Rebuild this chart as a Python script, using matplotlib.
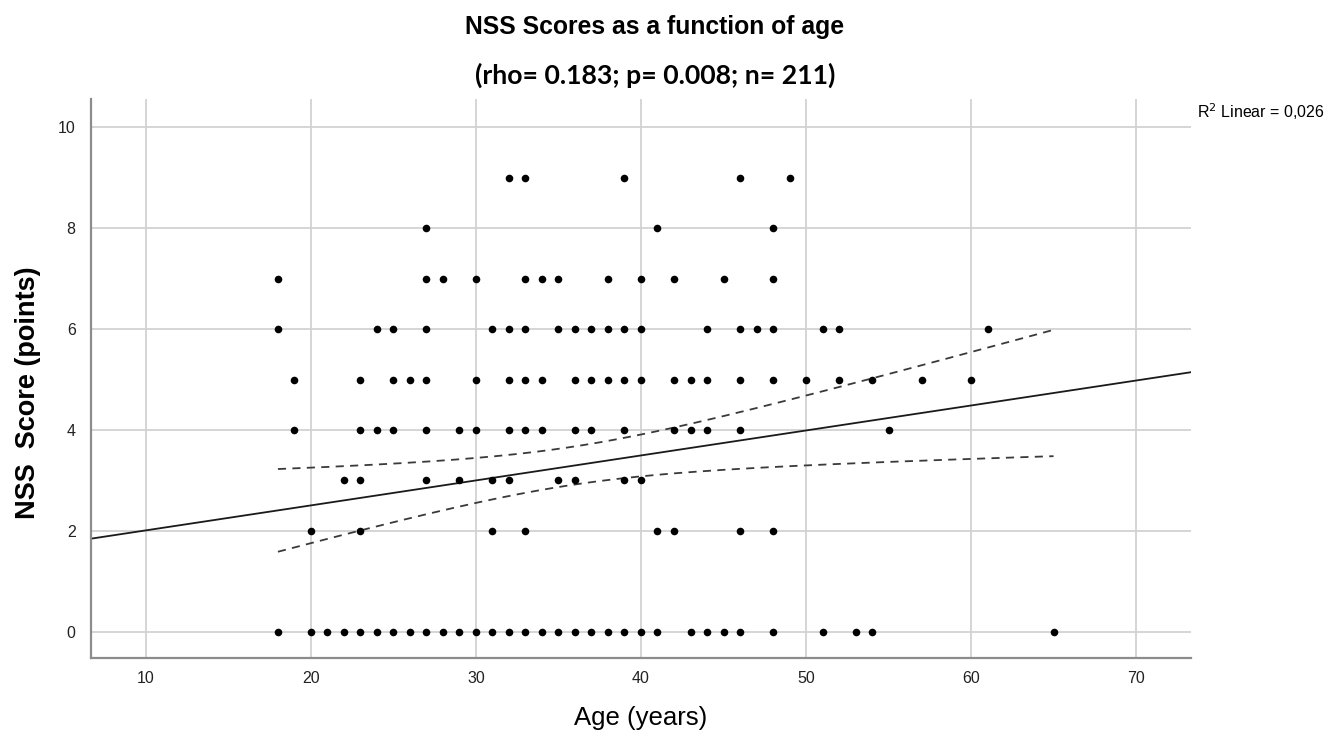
import numpy as np
import matplotlib
matplotlib.use("Agg")
import matplotlib.pyplot as plt

# ---- data (unique age/score points) ----
score9 = [32, 33, 39, 46, 49]
score8 = [27, 41, 48]
score7 = [18, 27, 28, 30, 33, 34, 35, 38, 40, 42, 45, 48]
score6 = [18, 24, 25, 27, 31, 32, 33, 35, 36, 37, 38, 39, 40, 44, 46, 47, 48, 51, 52, 61]
score5 = [19, 23, 25, 26, 27, 30, 32, 33, 34, 36, 37, 38, 39, 40, 42, 43, 44, 46, 48, 50, 52, 54, 57, 60]
score4 = [19, 23, 24, 25, 27, 29, 30, 32, 33, 34, 36, 37, 39, 42, 43, 44, 46, 55]
score3 = [22, 23, 27, 29, 31, 32, 35, 36, 39, 40]
score2 = [20, 23, 31, 33, 41, 42, 46, 48]
score0 = [18, 20, 21, 22, 23, 24, 25, 26, 27, 28, 29, 30, 31, 32, 33, 34, 35, 36,
          37, 38, 39, 40, 41, 43, 44, 45, 46, 48, 51, 53, 54, 65]

# regression summary (estimated from the fit line and its 95% CI)
n_obs = 211
fit_intercept = 1.515
fit_slope = 0.0495
age_mean = 35.8
age_sd = 9.25
resid_sd = 2.78
t_crit = 1.971
age_min, age_max = 18, 65

x_ticks = [10, 20, 30, 40, 50, 60, 70]
y_ticks = [0, 2, 4, 6, 8, 10]

groups = {9: score9, 8: score8, 7: score7, 6: score6, 5: score5,
          4: score4, 3: score3, 2: score2, 0: score0}

fig = plt.figure(figsize=(13.3, 7.41), dpi=100)
ax = fig.add_axes([0.0684, 0.112, 0.8271, 0.7544])

xlim = (6.67, 73.33)
ylim = (-0.52, 10.56)
ax.set_xlim(*xlim)
ax.set_ylim(*ylim)

ax.set_xticks(x_ticks)
ax.set_yticks(y_ticks)
ax.grid(True, color="#d2d2d2", linewidth=1.3)
ax.set_axisbelow(True)
for s in ["top", "right"]:
    ax.spines[s].set_visible(False)
for s in ["left", "bottom"]:
    ax.spines[s].set_color("#8c8c8c")
    ax.spines[s].set_linewidth(1.6)
ax.tick_params(axis="y", length=0, labelsize=11.5, colors="#222222", pad=11,
               labelfontfamily="Liberation Sans")
ax.tick_params(axis="x", length=0, labelsize=11.5, colors="#222222", pad=9,
               labelfontfamily="Liberation Sans")

# scatter points
for sc, ages in groups.items():
    ax.scatter(ages, [sc] * len(ages), s=30, color="black", zorder=3, linewidths=0)

# fit line across full x range
xs = np.linspace(xlim[0], xlim[1], 200)
ax.plot(xs, fit_intercept + fit_slope * xs, color="#1a1a1a", lw=1.3, zorder=2)

# 95% CI of mean over data range
xc = np.linspace(age_min, age_max, 200)
sxx = age_sd ** 2 * (n_obs - 1)
half = t_crit * resid_sd * np.sqrt(1 / n_obs + (xc - age_mean) ** 2 / sxx)
yc = fit_intercept + fit_slope * xc
for sign in (1, -1):
    ax.plot(xc, yc + sign * half, color="#3a3a3a", lw=1.3, ls=(0, (4.5, 3.5)), zorder=2)

# texts
fig.text(0.4925, 0.963, "NSS Scores as a function of age", ha="center", va="center",
         fontsize=17.8, fontweight="bold", family="Liberation Sans")
fig.text(0.4925, 0.898, "(rho= 0.183; p= 0.008; n= 211)", ha="center", va="center",
         fontsize=19.2, fontweight="bold", family="Lato")
fig.text(0.482, 0.031, "Age (years)", ha="center", va="center",
         fontsize=18.5, family="Liberation Sans")
fig.text(0.021, 0.47, "NSS  Score (points)", ha="center", va="center", rotation=90,
         fontsize=19.5, fontweight="bold", family="Liberation Sans")
fig.text(0.9, 0.849, "R$^2$ Linear = 0,026", ha="left", va="center",
         fontsize=11.5, family="Liberation Sans")

fig.savefig("out.png", dpi=100)
